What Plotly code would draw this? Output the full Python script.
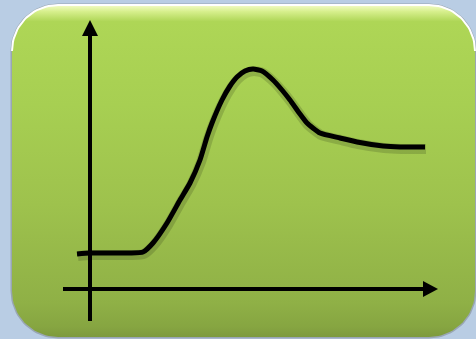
import numpy as np
import plotly.graph_objects as go

# Hand-drawn response curve (pixel-space coordinates of the sketch)
curve_x = [77, 90, 110, 130, 143, 153, 167, 180, 190, 200, 207, 212, 222, 230, 237, 245,
           253, 262, 273, 282, 290, 300, 307, 320, 340, 357, 383, 400, 425]
curve_y = [254, 253, 253, 253, 252, 243, 223, 200, 183, 160, 137, 123, 100, 86, 77, 71,
           69, 71, 80, 90, 100, 114, 123, 133, 138, 142, 146, 147, 147]

W, H = 476, 339
BG = "#b9cde4"

# rounded rectangle panel
x0, x1, y0, y1, r = 12, 475, 5, 337, 46
def arc(cx, cy, a0, a1, n=24):
    t = np.linspace(np.radians(a0), np.radians(a1), n)
    return cx + r * np.cos(t), cy + r * np.sin(t)

parts = [arc(x0 + r, y0 + r, 180, 270), arc(x1 - r, y0 + r, 270, 360),
         arc(x1 - r, y1 - r, 0, 90), arc(x0 + r, y1 - r, 90, 180)]
px = np.concatenate([p[0] for p in parts] + [[parts[0][0][0]]])
py = np.concatenate([p[1] for p in parts] + [[parts[0][1][0]]])

fig = go.Figure()
# soft shadow beneath panel border
fig.add_trace(go.Scatter(x=px, y=py, mode="lines", line=dict(color="rgba(140,150,160,0.7)", width=3),
                         hoverinfo="skip", showlegend=False))
fig.add_trace(go.Scatter(
    x=px, y=py, mode="lines", fill="toself",
    line=dict(color="rgba(0,0,0,0)", width=0),
    fillgradient=dict(type="vertical", start=y0, stop=y1,
                      colorscale=[[0, "#f4fcc8"], [0.02, "#d6ef8c"], [0.05, "#aed656"],
                                  [0.3, "#a7cf52"], [0.6, "#9ec24d"], [0.9, "#8fb046"],
                                  [0.97, "#86a541"], [1, "#7d9a3d"]]),
    hoverinfo="skip", showlegend=False))
# white highlight on upper border
top = py < 60
fig.add_trace(go.Scatter(x=np.where(top, px, np.nan), y=np.where(top, py, np.nan), mode="lines",
                         line=dict(color="white", width=2), connectgaps=False,
                         hoverinfo="skip", showlegend=False))

# curve shadow + curve
fig.add_trace(go.Scatter(x=[v + 1 for v in curve_x], y=[v + 2 for v in curve_y], mode="lines",
                         line=dict(color="rgba(0,0,0,0.15)", width=10, shape="spline", smoothing=0.5),
                         hoverinfo="skip", showlegend=False))
fig.add_trace(go.Scatter(x=curve_x, y=curve_y, mode="lines",
                         line=dict(color="black", width=5, shape="spline", smoothing=0.5),
                         hoverinfo="skip", showlegend=False))

# axes arrows
shapes = [
    dict(type="line", x0=90, x1=90, y0=321, y1=32, line=dict(color="black", width=4)),
    dict(type="path", path="M 90 20 L 82 36 L 98 36 Z", fillcolor="black", line=dict(width=0)),
    dict(type="line", x0=63, x1=425, y0=289, y1=289, line=dict(color="black", width=4)),
    dict(type="path", path="M 438 289 L 423 281 L 423 297 Z", fillcolor="black", line=dict(width=0)),
]
for s in shapes:
    s.update(xref="x", yref="y", layer="above")

fig.update_layout(
    width=W, height=H, margin=dict(l=0, r=0, t=0, b=0),
    paper_bgcolor=BG, plot_bgcolor=BG, shapes=shapes,
    xaxis=dict(range=[0, W], visible=False, fixedrange=True),
    yaxis=dict(range=[H, 0], visible=False, fixedrange=True),
    showlegend=False,
)
fig.write_html("out.html", config={"displayModeBar": False},
               post_script="document.body.style.margin='0';document.body.style.overflow='hidden';")
